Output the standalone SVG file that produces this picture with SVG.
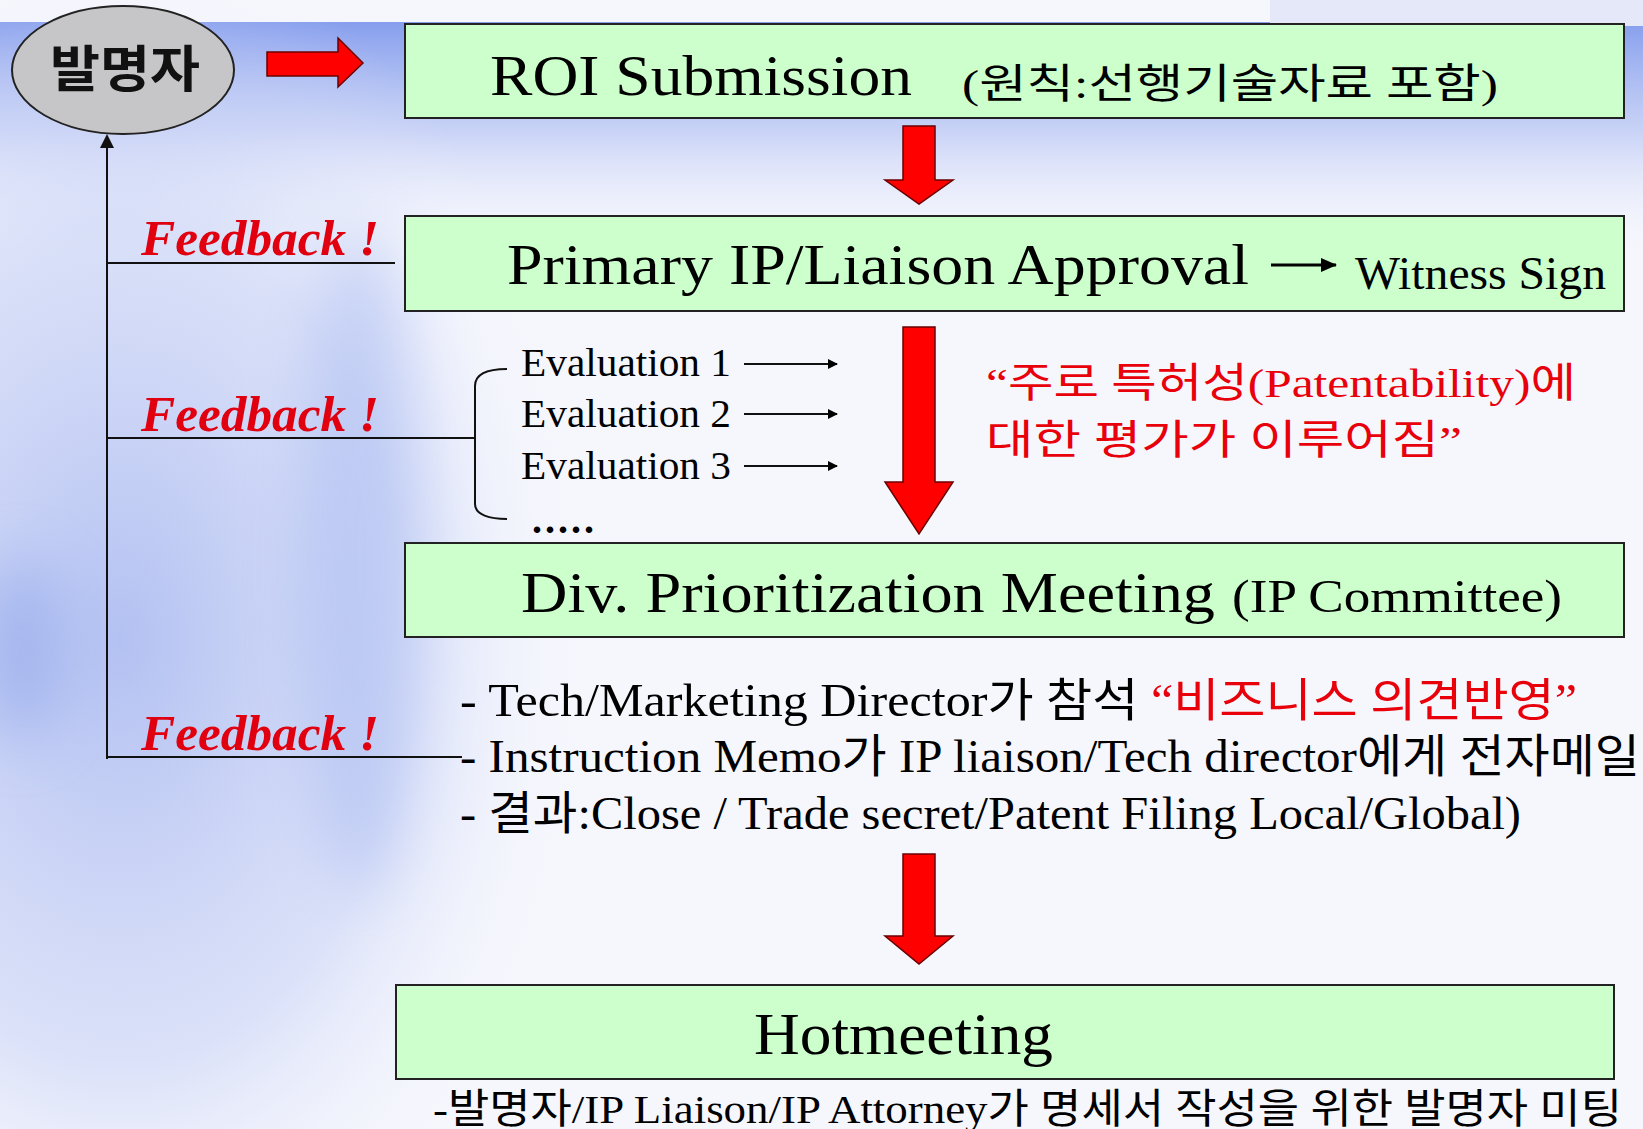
<svg xmlns="http://www.w3.org/2000/svg" width="1643" height="1129" viewBox="0 0 1643 1129">
<style>
.box{fill:#ccffcc;stroke:#222;stroke-width:2}
.big{font-family:"Liberation Serif","Noto Sans CJK KR",serif;fill:#000}
.ko{font-family:"Liberation Serif","Noto Sans CJK KR",serif}
.fb{font-family:"Liberation Serif",serif;font-weight:bold;font-style:italic;fill:#e00010;font-size:50px}
.red{fill:#ff0000;stroke:#6a0000;stroke-width:1.5}
.ln{stroke:#111;stroke-width:2;fill:none}
.redt{fill:#e8000a}
</style>
<defs>
<linearGradient id="topband" x1="0" y1="0" x2="0" y2="1">
<stop offset="0" stop-color="#869eed" stop-opacity="1"/>
<stop offset="0.45" stop-color="#b9c6f4" stop-opacity="0.75"/>
<stop offset="1" stop-color="#f6f7fd" stop-opacity="0"/>
</linearGradient>
<radialGradient id="leftglow" cx="0.5" cy="0.5" r="0.5">
<stop offset="0" stop-color="#a7b7f0" stop-opacity="0.85"/>
<stop offset="0.6" stop-color="#bfcbf4" stop-opacity="0.5"/>
<stop offset="1" stop-color="#f6f7fd" stop-opacity="0"/>
</radialGradient>
<filter id="blur" x="-50%" y="-50%" width="200%" height="200%"><feGaussianBlur stdDeviation="30"/></filter>
<marker id="ah" markerWidth="10" markerHeight="10" refX="9" refY="5" orient="auto" markerUnits="userSpaceOnUse">
<path d="M0,0 L10,5 L0,10 Z" fill="#000"/>
</marker>
<marker id="ahs" markerWidth="16" markerHeight="14" refX="15" refY="7" orient="auto" markerUnits="userSpaceOnUse">
<path d="M0,0 L16,7 L0,14 Z" fill="#000"/>
</marker>
</defs>

<g id="background">
<rect width="1643" height="1129" fill="#f6f7fd"/>
<rect x="0" y="22" width="1643" height="240" fill="url(#topband)"/>
<rect x="1270" y="0" width="373" height="26" fill="#e4e8f8"/>
<ellipse cx="120" cy="640" rx="480" ry="700" fill="url(#leftglow)"/>
<ellipse cx="360" cy="560" rx="60" ry="330" fill="#9fb2ef" opacity="0.45" filter="url(#blur)"/>
<ellipse cx="20" cy="650" rx="40" ry="90" fill="#8ea4ea" opacity="0.6" filter="url(#blur)"/>
</g>

<g id="inventor">
<ellipse cx="123" cy="70" rx="111" ry="64" fill="#c6c6c8" stroke="#222" stroke-width="2"/>
<text x="125" y="87" text-anchor="middle" font-family="'Noto Sans CJK KR',sans-serif" font-weight="bold" font-size="50" fill="#111" textLength="150" lengthAdjust="spacingAndGlyphs">발명자</text>
</g>

<g id="roi">
<rect class="box" x="405" y="24" width="1219" height="94"/>
<text class="big" x="490" y="95" font-size="58" textLength="422" lengthAdjust="spacingAndGlyphs">ROI Submission</text>
<text class="ko" x="962" y="98" font-size="41" textLength="536" lengthAdjust="spacingAndGlyphs">(원칙:선행기술자료 포함)</text>
</g>

<g id="primary">
<rect class="box" x="405" y="216" width="1219" height="95"/>
<text class="big" x="507" y="284" font-size="57" textLength="742" lengthAdjust="spacingAndGlyphs">Primary IP/Liaison Approval</text>
<text class="big" x="1355" y="289" font-size="47" textLength="251" lengthAdjust="spacingAndGlyphs">Witness Sign</text>
</g>

<g id="evaluations">
<text class="big" x="521" y="376" font-size="41" textLength="210" lengthAdjust="spacingAndGlyphs">Evaluation 1</text>
<text class="big" x="521" y="427" font-size="41" textLength="210" lengthAdjust="spacingAndGlyphs">Evaluation 2</text>
<text class="big" x="521" y="479" font-size="41" textLength="210" lengthAdjust="spacingAndGlyphs">Evaluation 3</text>
<text class="big" x="532" y="533" font-size="40" font-weight="bold" textLength="62" lengthAdjust="spacing">.....</text>
</g>

<g id="patentability-note">
<text class="ko redt" x="986" y="397" font-size="41" textLength="590" lengthAdjust="spacingAndGlyphs">“주로 특허성(Patentability)에</text>
<text class="ko redt" x="986" y="454" font-size="41" textLength="476" lengthAdjust="spacingAndGlyphs">대한 평가가 이루어짐”</text>
</g>

<g id="division">
<rect class="box" x="405" y="543" width="1219" height="94"/>
<text class="big" x="521" y="612" font-size="58" textLength="694" lengthAdjust="spacingAndGlyphs">Div. Prioritization Meeting</text>
<text class="big" x="1232" y="612" font-size="47" textLength="330" lengthAdjust="spacingAndGlyphs">(IP Committee)</text>
</g>

<g id="division-notes">
<text class="ko" x="460" y="716" font-size="46" textLength="1117" lengthAdjust="spacingAndGlyphs"><tspan fill="#000">- Tech/Marketing Director가 참석 </tspan><tspan class="redt">“비즈니스 의견반영”</tspan></text>
<text class="ko" x="460" y="772" font-size="46" fill="#000" textLength="1180" lengthAdjust="spacingAndGlyphs">- Instruction Memo가 IP liaison/Tech director에게 전자메일</text>
<text class="ko" x="460" y="829" font-size="46" fill="#000" textLength="1061" lengthAdjust="spacingAndGlyphs">- 결과:Close / Trade secret/Patent Filing Local/Global)</text>
</g>

<g id="hotmeeting">
<rect class="box" x="396" y="985" width="1218" height="94"/>
<text class="big" x="754" y="1054" font-size="59" textLength="299" lengthAdjust="spacingAndGlyphs">Hotmeeting</text>
<text class="ko" x="433" y="1123" font-size="41" fill="#000" textLength="1189" lengthAdjust="spacingAndGlyphs">-발명자/IP Liaison/IP Attorney가 명세서 작성을 위한 발명자 미팅</text>
</g>

<g id="feedback-labels">
<text class="fb" x="141" y="255" textLength="238" lengthAdjust="spacingAndGlyphs">Feedback !</text>
<text class="fb" x="141" y="431" textLength="238" lengthAdjust="spacingAndGlyphs">Feedback !</text>
<text class="fb" x="141" y="750" textLength="238" lengthAdjust="spacingAndGlyphs">Feedback !</text>
</g>

<g id="connectors">
<polygon class="red" points="267,52 338,52 338,38 363,63 338,87 338,76 267,76"/>
<polygon class="red" points="903,126 935,126 935,180 953,180 919,204 885,180 903,180"/>
<polygon class="red" points="903,327 935,327 935,482 953,482 919,534 885,482 903,482"/>
<polygon class="red" points="903,854 935,854 935,936 953,936 919,964 885,936 903,936"/>
<line class="ln" x1="107" y1="759" x2="107" y2="146"/>
<polygon points="107,134 114,148 100,148" fill="#111"/>
<line class="ln" x1="107" y1="263" x2="395" y2="263"/>
<line class="ln" x1="107" y1="438" x2="475" y2="438"/>
<line class="ln" x1="107" y1="757" x2="462" y2="757"/>
<path class="ln" d="M507,369 C490,369 475,373 475,386 L475,504 C475,515 490,519 507,519"/>
<line class="ln" x1="744" y1="364" x2="837" y2="364" marker-end="url(#ah)"/>
<line class="ln" x1="744" y1="414" x2="837" y2="414" marker-end="url(#ah)"/>
<line class="ln" x1="744" y1="466" x2="837" y2="466" marker-end="url(#ah)"/>
<line x1="1271" y1="265" x2="1336" y2="265" stroke="#000" stroke-width="3" marker-end="url(#ahs)"/>
</g>
</svg>
